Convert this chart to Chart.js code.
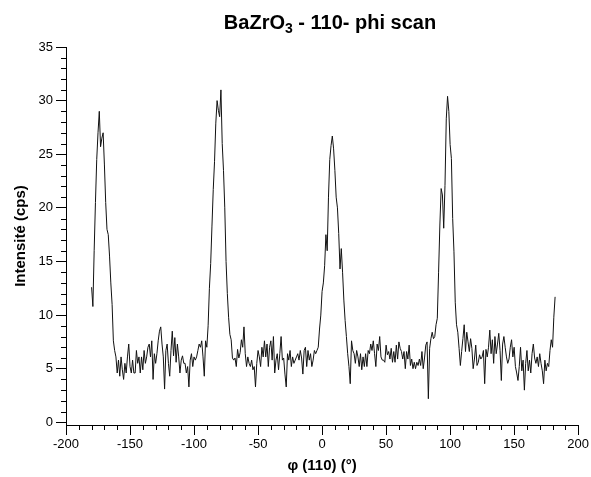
<!DOCTYPE html>
<html><head><meta charset="utf-8">
<script src="https://cdn.jsdelivr.net/npm/chart.js@4/dist/chart.umd.min.js"></script>
<style>html,body{margin:0;padding:0;background:#fff;}#wrap{width:591px;height:477px;position:relative;}</style>
</head><body><div id="wrap"><canvas id="c"></canvas></div>
<script>
// phi scan: 1 degree steps starting at -180
const phiStart = -180;
const phiStep = 1;
const peak1 = [12.6,10.8,16.0,20.5,24.5,27.0,29.0,25.7,26.5,27.0,24.0,20.5,18.0,17.5,15.5,13.0,11.0,7.6,6.7];
const base1 = [6.1,4.6,5.8,4.3,6.1,4.9,4.0,5.5,4.6,6.1,7.3,5.2,4.6,5.8,4.6,4.6,6.7,5.5,6.1,4.6,6.1,4.9,6.7,5.5,6.1,7.0,7.3,6.1,7.6,4.0,6.4,5.5,6.4,7.6,8.5,8.9,7.3,6.1,3.1,6.7,7.3,5.5,4.3,6.7,8.5,6.2,7.9,5.6,7.3,6.1,4.6,5.8,6.2,5.5];
const peak2 = [5.5,4.6,5.2,3.3,5.8,6.4,5.2,6.1,5.8,6.1,6.7,7.3,7.0,7.6,6.1,4.3,7.6,7.0,9.0,12.5,14.8,18.3,21.7,24.3,27.9,30.0,29.1,28.5,31.0,26.0,23.5,20.0,15.0,12.0,9.8,8.2,7.7,6.0,5.8,6.0,5.2,6.8,6.0,6.5,7.7,7.0,8.9,6.4,5.2,6.1,5.5,5.2,5.8,4.9,5.2,3.3,5.5,6.7,6.1,5.2,7.0,6.1,7.6,6.1,7.3,5.2,7.0,7.6,5.8,8.0,4.6,5.8,6.4,4.9,6.4,8.0,5.8,6.0];
const peak3 = [4.5,3.3,6.4,5.8,6.7,5.2,6.1,5.5,5.8,6.1,6.4,5.8,6.7,6.0,4.5,6.7,7.0,5.2,6.7,5.8,6.4,5.2,5.8,6.7,6.4,6.7,7.0,8.7,10.0,12.2,13.0,14.6,17.5,16.0,21.0,24.5,25.8,26.7,25.5,23.5,21.0,20.0,17.6,14.3,16.2,14.0,11.4,9.5,8.0,6.4,5.2,3.6,7.6,6.7,6.4,5.5,6.7,6.1,5.2,6.4,4.9,6.1,5.2,6.4,5.2,6.7,6.4,7.3,6.7,7.6,6.4,5.2,7.3,6.7,8.0,6.1,5.8,5.8];
const peak4 = [5.6,7.2,6.3,6.6,5.9,6.9,5.6,6.6,5.6,7.2,5.9,7.5,6.9,6.6,5.9,6.6,5.0,6.6,5.9,7.2,5.3,5.9,5.0,5.6,5.0,5.6,5.3,5.9,5.3,6.6,5.0,6.0,7.2,7.5,2.2,6.9,7.8,8.4,7.8,8.0,9.1,9.7,14.0,18.4,21.8,21.2,18.1,22.1,28.3,30.4,29.0,25.9,24.6,19.0,15.9,11.2,9.1,8.4,6.9,5.3,6.6,7.8,9.1,6.6,8.4,7.5,6.6,7.8,6.9,5.0,5.9,7.2,5.3,5.6,6.3,5.9];
const tail = [6.1,6.7,3.6,6.8,6.1,7.0,8.6,6.4,7.7,5.5,8.0,6.4,7.3,8.3,6.7,3.9,7.3,8.0,7.0,6.1,5.5,5.9,7.0,7.7,6.1,7.0,5.2,4.6,3.9,5.2,7.0,4.8,5.8,3.0,5.5,6.7,4.8,5.8,4.6,6.4,7.3,6.0,5.5,6.1,5.2,6.4,5.5,4.8,3.6,5.8,4.8,5.5,5.2,6.7,7.7,7.0,9.8,11.7];
const intensity = [].concat(peak1, base1, peak2, peak3, peak4, tail);

const xTicks = [-200,-150,-100,-50,0,50,100,150,200];
const yTicks = [0,5,10,15,20,25,30,35];
const titleMain = 'BaZrO';
const titleSub = '3';
const titleRest = ' - 110- phi scan';
const xTitle = 'φ (110) (°)';
const yTitle = 'Intensité (cps)';

const FONT = '"Liberation Sans", Arial, sans-serif';
const points = intensity.map((v, i) => ({x: phiStart + i * phiStep, y: v}));

const minorTicks = {
  id: 'minorTicks',
  afterDraw(chart) {
    const {ctx, scales: {x, y}, chartArea} = chart;
    ctx.save();
    ctx.strokeStyle = '#000'; ctx.lineWidth = 1;
    ctx.beginPath();
    for (let v = -200; v <= 200; v += 10) {
      if (v % 50 === 0) continue;
      const px = Math.round(x.getPixelForValue(v)) + 0.5;
      ctx.moveTo(px, chartArea.bottom); ctx.lineTo(px, chartArea.bottom + 5);
    }
    for (let v = 0; v <= 35; v += 1) {
      if (v % 5 === 0) continue;
      const py = Math.round(y.getPixelForValue(v)) + 0.5;
      ctx.moveTo(chartArea.left - 5, py); ctx.lineTo(chartArea.left, py);
    }
    ctx.stroke();
    ctx.restore();
  }
};

const titlePlugin = {
  id: 'subTitle',
  afterDraw(chart) {
    const ctx = chart.ctx;
    ctx.save();
    ctx.fillStyle = '#000';
    ctx.textBaseline = 'alphabetic';
    const big = 'bold 20px ' + FONT, small = 'bold 14px ' + FONT;
    ctx.font = big; const w1 = ctx.measureText(titleMain).width; const w3 = ctx.measureText(titleRest).width;
    ctx.font = small; const w2 = ctx.measureText(titleSub).width;
    const total = w1 + w2 + w3;
    let x0 = 330 - total / 2;
    const base = 29;
    ctx.font = big; ctx.fillText(titleMain, x0, base);
    ctx.font = small; ctx.fillText(titleSub, x0 + w1, base + 4);
    ctx.font = big; ctx.fillText(titleRest, x0 + w1 + w2, base);
    ctx.restore();
  }
};

new Chart(document.getElementById('c'), {
  type: 'line',
  data: { datasets: [{ data: points, borderColor: '#111', borderWidth: 1, pointRadius: 0, tension: 0, fill: false }] },
  options: {
    responsive: true, maintainAspectRatio: false, animation: false,
    layout: { padding: { top: 47, right: 11, left: 0, bottom: 0 } },
    plugins: { legend: { display: false }, tooltip: { enabled: false }, title: { display: false } },
    scales: {
      x: {
        type: 'linear', min: -200, max: 200,
        afterBuildTicks: s => { s.ticks = xTicks.map(v => ({value: v})); },
        ticks: { font: { family: FONT, size: 13 }, color: '#000', padding: 2, maxRotation: 0, autoSkip: false },
        grid: { drawOnChartArea: false, tickLength: 10, tickColor: '#000', tickWidth: 1 },
        border: { color: '#000', width: 1 },
        title: { display: true, text: xTitle, font: { family: FONT, size: 15, weight: 'bold' }, color: '#000', padding: { top: 0, bottom: 2 } },
        afterFit: s => { s.height = 52; }
      },
      y: {
        type: 'linear', min: -0.25, max: 35,
        afterBuildTicks: s => { s.ticks = yTicks.map(v => ({value: v})); },
        ticks: { font: { family: FONT, size: 13 }, color: '#000', padding: 3 },
        grid: { drawOnChartArea: false, tickLength: 10, tickColor: '#000', tickWidth: 1 },
        border: { color: '#000', width: 1 },
        title: { display: true, text: yTitle, font: { family: FONT, size: 15, weight: 'bold' }, color: '#000', padding: { top: 12, bottom: 0 } },
        afterFit: s => { s.width = 66; }
      }
    }
  },
  plugins: [minorTicks, titlePlugin]
});
</script></body></html>
